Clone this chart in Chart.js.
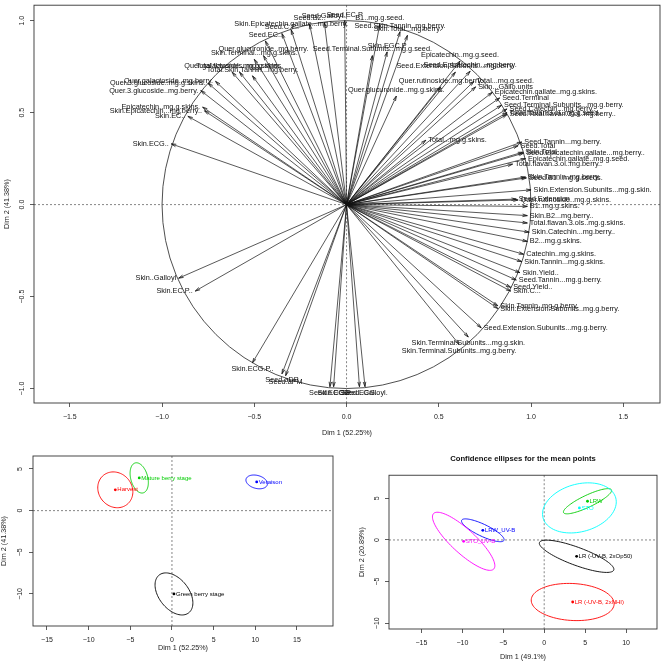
<!DOCTYPE html>
<html><head><meta charset="utf-8">
<script src="https://cdn.jsdelivr.net/npm/chart.js@4/dist/chart.umd.min.js"></script>
<style>
html,body{margin:0;padding:0;background:#fff;width:661px;height:661px;overflow:hidden}
canvas{position:absolute;display:block}
#c1{left:0;top:0}#c2{left:0;top:440px}#c3{left:340px;top:440px}
</style></head><body>
<canvas id="c1" width="661" height="440"></canvas>
<canvas id="c2" width="340" height="221"></canvas>
<canvas id="c3" width="321" height="221"></canvas>
<script>
// ---------- DATA ----------
const varNames = [
"Skin.Epicatechin.gallate...mg.berry.","Seed.C.P..","Seed.EC..","Seed.B2..","Seed.Galloyl..","Seed.EC.P",
"Quer.glucuronide..mg.berry.","Skin.Terminal...mg.g.skins.","Quer.galactoside..mg.g.skins.","Total.flavonols..mg.g.skins.",
"Total.Skin.Tannin...mg.berry.","Quer.galactoside..mg.berry.","Quer.3.glucoside..mg.g.skins.","Quer.3.glucoside..mg.berry.",
"Epicatechin..mg.g.skins.","Skin.Epicatechin...mg.berry..","Skin.EC..","Skin.ECG..","Skin..Galloyl","Skin.EC.P..",
"Skin.ECG.P..","Seed.aDP","Seed.aPM","Seed.ECG.P","Skin.ECG","Seed.ECG..","Seed..Galloyl.",
"Skin.Terminal.Subunits...mg.g.skin.","Skin.Terminal.Subunits..mg.g.berry.","Seed.Extension.Subunits...mg.g.berry.",
"Skin.Tannin..mg.g.berry.","Skin.Extension.Subunits..mg.g.berry.","Seed.Tannin...mg.berry.","Seed.Total",
"Seed.Epicatechin.gallate...mg.berry..","Skin.Total","Epicatechin.gallate..mg.g.seed.","Total.flavan.3.ol..mg.berry..",
"Skin.Tannin..mg.berry.","Seed.B1...mg.g.seeds.","Skin.Extension.Subunits...mg.g.skin.","Seed.Extension",
"Quer.rutinoside..mg.g.skins.","B1..mg.g.skins.","Skin.B2...mg.berry..","Total.flavan.3.ols..mg.g.skins.",
"Skin.Catechin...mg.berry..","B2...mg.g.skins.","Catechin..mg.g.skins.","Skin.Tannin...mg.g.skins.","Skin.Yield..",
"Seed.Tannin...mg.g.berry.","Seed.Yield..","Skin.C...","B1..mg.g.seed.","Seed.Skin.Tannin..mg.berry.",
"Skin.Total...mg.berry.","Seed.Terminal.Subunits...mg.g.seed.","Skin.EGC.P","Epicatechin..mg.g.seed.",
"Seed.Epicatechin...mg.berry.","Seed.Extension.Subunits...mg.berry.","Quer.rutinoside..mg.berry.","Total...mg.g.seed.",
"Skin...Gallo.units","Quer.glucuronide..mg.g.skins.","Epicatechin.gallate..mg.g.skins.","Seed.Terminal",
"Seed.Terminal.Subunits...mg.g.berry.","Seed.Catechin...mg.berry..","Total.flavan.3.ol..mg.g.seed.",
"Seed.Total.flavan.3.ol..mg.berry..","Total...mg.g.skins."
];
const varDim1 = [-0.30,-0.35,-0.44,-0.20,-0.12,-0.01,-0.45,-0.50,-0.62,-0.58,-0.51,-0.71,-0.75,-0.79,-0.78,-0.77,-0.86,-0.95,
-0.91,-0.82,-0.51,-0.35,-0.33,-0.09,-0.07,0.07,0.10,0.66,0.61,0.73,0.82,0.82,0.95,0.93,0.96,0.955,0.97,0.90,0.97,0.975,1.00,
0.92,0.93,0.98,0.98,0.98,0.99,0.98,0.96,0.95,0.94,0.92,0.89,0.89,0.18,0.29,0.33,0.14,0.22,0.615,0.67,0.59,0.51,0.69,0.70,
0.27,0.79,0.83,0.84,0.87,0.87,0.87,0.43];
const varDim2 = [0.95,0.93,0.89,0.98,0.99,1.00,0.81,0.79,0.72,0.72,0.70,0.67,0.66,0.62,0.53,0.51,0.48,0.33,
-0.40,-0.47,-0.86,-0.92,-0.93,-0.99,-0.99,-0.99,-0.99,-0.72,-0.76,-0.67,-0.55,-0.565,0.34,0.32,0.28,0.285,0.25,0.22,0.15,0.145,0.08,
0.03,0.025,-0.01,-0.06,-0.10,-0.15,-0.20,-0.27,-0.31,-0.37,-0.41,-0.45,-0.47,0.98,0.94,0.92,0.81,0.83,0.78,0.725,0.72,0.64,0.67,0.64,
0.59,0.61,0.58,0.54,0.52,0.50,0.49,0.35];
const topXTicks = [-1.5,-1.0,-0.5,0.0,0.5,1.0,1.5];
const topYTicks = [-1.0,-0.5,0.0,0.5,1.0];

const stageNames = ["Green berry stage","Harvest","Mature berry stage","Veraison"];
const stageDim1  = [0.24,-6.8,-3.93,10.17];
const stageDim2  = [-10.0,2.5,3.93,3.45];
const stageEllA  = [2.88,2.25,1.86,1.32];
const stageEllB  = [1.80,2.00,1.02,0.78];
const stageEllAngle = [-52,-50,-75,-15];
const stageXTicks = [-15,-10,-5,0,5,10,15];
const stageYTicks = [-10,-5,0,5];

const treatNames = ["LR (-UV-B, 2xOp50)","LR (-UV-B, 2xNHI)","LRW","LRW_UV-B","STO","STO_UV-B"];
const treatDim1  = [3.96,3.48,5.29,-7.5,4.3,-9.84];
const treatDim2  = [-1.96,-7.45,4.65,1.16,3.85,-0.16];
const treatEllA  = [4.83,5.07,3.23,2.85,4.6,4.96];
const treatEllB  = [1.08,2.22,0.72,0.72,2.86,1.45];
const treatEllAngle = [-20,-3,25,-25,15,-42];
const treatXTicks = [-15,-10,-5,0,5,10];
const treatYTicks = [-10,-5,0,5];

// ---------- STYLE / HELPERS ----------
const FONT = "'Liberation Sans', Arial, Helvetica, sans-serif";
const stageColors = ['#000000','#FF0000','#00CD00','#0000FF'];
const treatColors = ['#000000','#FF0000','#00CD00','#0000FF','#00FFFF','#FF00FF'];
const fmt1 = v => (v < 0 ? '\u2212' : '') + Math.abs(v).toFixed(1);
const fmt0 = v => (v < 0 ? '\u2212' : '') + Math.abs(v).toFixed(0);

function mkAxis(o){
  const left = o.pos === 'left';
  return {
    type:'linear', position:o.pos, min:o.min, max:o.max,
    afterBuildTicks: s => { s.ticks = o.ticks.map(v => ({value:v})); },
    afterFit: s => { if (left) s.width = o.size; else s.height = o.size; },
    grid:{display:true, drawOnChartArea:false, drawTicks:true, tickLength:4, color:'#333', lineWidth:0.8},
    border:{display:false},
    ticks:{autoSkip:false, font:{family:FONT,size:7}, color:'#222', padding:o.tickPad,
      minRotation:left?90:0, maxRotation:left?90:0, crossAlign:left?'center':'near', callback:o.fmt},
    title:{display:true, text:o.title, color:'#222', font:{family:FONT,size:7.2,lineHeight:o.lh||1.2},
      padding: left ? {top:o.titlePad,bottom:0} : {top:0,bottom:o.titlePad}}
  };
}

function zeroLines(chart){
  const {ctx, chartArea:a, scales:{x,y}} = chart;
  const x0 = x.getPixelForValue(0), y0 = y.getPixelForValue(0);
  ctx.save();
  ctx.strokeStyle = '#666'; ctx.lineWidth = 0.8; ctx.setLineDash([2,2]);
  ctx.beginPath(); ctx.moveTo(a.left,y0); ctx.lineTo(a.right,y0); ctx.moveTo(x0,a.top); ctx.lineTo(x0,a.bottom); ctx.stroke();
  ctx.restore();
}
function box(chart){
  const {ctx, chartArea:a} = chart;
  ctx.save(); ctx.strokeStyle = '#333'; ctx.lineWidth = 0.9;
  ctx.strokeRect(a.left, a.top, a.right - a.left, a.bottom - a.top); ctx.restore();
}
function drawEllipse(ctx, xs, ys, cx, cy, a, b, angDeg){
  const t = angDeg * Math.PI / 180;
  ctx.beginPath();
  for (let k = 0; k <= 90; k++){
    const u = k / 90 * 2 * Math.PI, ex = a * Math.cos(u), ey = b * Math.sin(u);
    const dx = cx + ex * Math.cos(t) - ey * Math.sin(t), dy = cy + ex * Math.sin(t) + ey * Math.cos(t);
    const px = xs.getPixelForValue(dx), py = ys.getPixelForValue(dy);
    if (k) ctx.lineTo(px, py); else ctx.moveTo(px, py);
  }
  ctx.stroke();
}
const baseOpts = (pad) => ({
  responsive:false, animation:false, events:[],
  layout:{padding:pad},
  plugins:{legend:{display:false}, tooltip:{enabled:false}}
});

// ---------- CHART 1: variables factor map ----------
const pcaPlugin = {
  id:'pca',
  beforeDatasetsDraw(chart){
    zeroLines(chart);
    const {ctx, scales:{x,y}} = chart;
    const x0 = x.getPixelForValue(0), y0 = y.getPixelForValue(0);
    ctx.save(); ctx.strokeStyle = '#222'; ctx.lineWidth = 0.8;
    ctx.beginPath();
    ctx.ellipse(x0, y0, x.getPixelForValue(1) - x0, y0 - y.getPixelForValue(1), 0, 0, 2*Math.PI);
    ctx.stroke(); ctx.restore();
  },
  afterDatasetsDraw(chart){
    const {ctx, scales:{x,y}} = chart;
    const x0 = x.getPixelForValue(0), y0 = y.getPixelForValue(0);
    ctx.save();
    ctx.font = '7.3px ' + FONT; ctx.fillStyle = '#111'; ctx.strokeStyle = '#111'; ctx.lineWidth = 0.8;
    const off = 2.5, L = 5, h = 15 * Math.PI / 180;
    varNames.forEach((n, i) => {
      const vx = varDim1[i], vy = varDim2[i];
      const px = x.getPixelForValue(vx), py = y.getPixelForValue(vy);
      const ang = Math.atan2(py - y0, px - x0);
      ctx.beginPath();
      ctx.moveTo(px - L*Math.cos(ang - h), py - L*Math.sin(ang - h)); ctx.lineTo(px, py);
      ctx.lineTo(px - L*Math.cos(ang + h), py - L*Math.sin(ang + h));
      ctx.stroke();
      if (Math.abs(vx) > Math.abs(vy)) {
        ctx.textBaseline = 'middle';
        if (vx >= 0) { ctx.textAlign = 'left'; ctx.fillText(n, px + off, py); }
        else { ctx.textAlign = 'right'; ctx.fillText(n, px - off, py); }
      } else {
        ctx.textAlign = 'center';
        if (vy >= 0) { ctx.textBaseline = 'bottom'; ctx.fillText(n, px, py - off); }
        else { ctx.textBaseline = 'top'; ctx.fillText(n, px, py + off); }
      }
    });
    ctx.restore();
  },
  afterDraw: box
};
new Chart(document.getElementById('c1'), {
  type:'scatter',
  data:{datasets: varNames.map((n, i) => ({label:n, data:[{x:0,y:0},{x:varDim1[i],y:varDim2[i]}],
      showLine:true, pointRadius:0, borderColor:'#111', borderWidth:0.7, fill:false}))},
  options:Object.assign(baseOpts({top:4,right:1,left:0,bottom:0}), {
    scales:{
      x: mkAxis({pos:'bottom', min:-1.694, max:1.699, ticks:topXTicks, size:37, tickPad:6, fmt:fmt1, title:'Dim 1 (52.25%)', titlePad:2.7}),
      y: mkAxis({pos:'left', min:-1.0786, max:1.084, ticks:topYTicks, size:34, tickPad:1, fmt:fmt1, title:'Dim 2 (41.38%)', titlePad:2.7})
    }
  }),
  plugins:[pcaPlugin]
});

// ---------- ellipse charts ----------
function ellPlugin(names, dx, dy, ea, eb, eang, cols){
  return {
    id:'ell',
    beforeDatasetsDraw(chart){
      zeroLines(chart);
      const {ctx, scales:{x,y}} = chart;
      ctx.save(); ctx.lineWidth = 0.9;
      names.forEach((n, i) => { ctx.strokeStyle = cols[i]; drawEllipse(ctx, x, y, dx[i], dy[i], ea[i], eb[i], eang[i]); });
      ctx.restore();
    },
    afterDatasetsDraw(chart){
      const {ctx, scales:{x,y}} = chart;
      ctx.save(); ctx.font = '6px ' + FONT; ctx.textAlign = 'left'; ctx.textBaseline = 'middle';
      names.forEach((n, i) => { ctx.fillStyle = cols[i]; ctx.fillText(n, x.getPixelForValue(dx[i]) + 2, y.getPixelForValue(dy[i])); });
      ctx.restore();
    },
    afterDraw: box
  };
}

new Chart(document.getElementById('c2'), {
  type:'scatter',
  data:{datasets:[{data: stageNames.map((n, i) => ({x:stageDim1[i], y:stageDim2[i]})),
     pointRadius:1.4, pointBackgroundColor:stageColors, pointBorderWidth:0}]},
  options:Object.assign(baseOpts({top:16,right:7,left:0,bottom:0}), {
    scales:{
      x: mkAxis({pos:'bottom', min:-16.68, max:19.33, ticks:stageXTicks, size:35, tickPad:5.5, fmt:fmt0, title:'Dim 1 (52.25%)', titlePad:8.7}),
      y: mkAxis({pos:'left', min:-13.85, max:6.56, ticks:stageYTicks, size:33, tickPad:3, fmt:fmt0, title:'Dim 2 (41.38%)', titlePad:0.4, lh:1})
    }
  }),
  plugins:[ellPlugin(stageNames, stageDim1, stageDim2, stageEllA, stageEllB, stageEllAngle, stageColors)]
});

new Chart(document.getElementById('c3'), {
  type:'scatter',
  data:{datasets:[{data: treatNames.map((n, i) => ({x:treatDim1[i], y:treatDim2[i]})),
     pointRadius:1.4, pointBackgroundColor:treatColors, pointBorderWidth:0}]},
  options:Object.assign(baseOpts({top:0,right:1,left:0,bottom:0}), {
    plugins:{legend:{display:false}, tooltip:{enabled:false},
      title:{display:true, fullSize:false, text:'Confidence ellipses for the mean points', color:'#111',
        font:{family:FONT, size:7.7, weight:'bold', lineHeight:1.2}, padding:{top:14.5, bottom:11.5}}},
    scales:{
      x: mkAxis({pos:'bottom', min:-18.96, max:13.78, ticks:treatXTicks, size:32, tickPad:5.5, fmt:fmt0, title:'Dim 1 (49.1%)', titlePad:0.4, lh:1}),
      y: mkAxis({pos:'left', min:-10.69, max:7.77, ticks:treatYTicks, size:49, tickPad:2, fmt:fmt0, title:'Dim 2 (20.89%)', titlePad:17.7})
    }
  }),
  plugins:[ellPlugin(treatNames, treatDim1, treatDim2, treatEllA, treatEllB, treatEllAngle, treatColors)]
});
</script>
</body></html>
